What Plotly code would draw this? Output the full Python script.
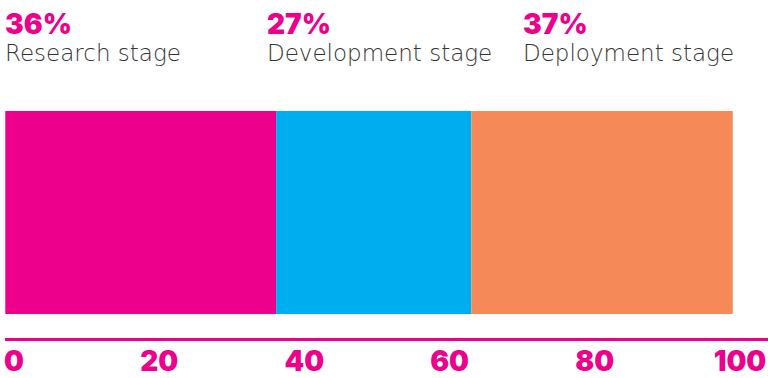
import plotly.graph_objects as go

stages = ["Research stage", "Development stage", "Deployment stage"]
shares = [36, 27, 37]                      # labelled percentages
segment_widths = [37.3, 26.9, 36.0]        # widths as drawn on the axis scale
bar_start = -1.2
colors = ["#EC008C", "#00AEEF", "#F58A58"]
tick_vals = [0, 20, 40, 60, 80, 100]

W, H = 768, 378
ML, MR, MT, MB = 5, 0, 111, 40
PINK = "#EC008C"

fig = go.Figure()
base = bar_start
for name, w, c in zip(stages, segment_widths, colors):
    fig.add_trace(go.Bar(
        x=[w], y=[0.553], base=[base], width=[0.894], orientation="h",
        marker=dict(color=c, line=dict(width=0)), name=name,
        hoverinfo="skip", showlegend=False))
    base += w

# header annotations (pixel positions -> paper)
label_px = [5, 267, 523]
pw = W - ML - MR
ph = H - MT - MB


def py(y_px):
    return (H - MB - y_px) / ph


for px, s, name in zip(label_px, shares, stages):
    xp = (px - ML) / pw
    fig.add_annotation(x=xp, xref="paper", y=py(43), yref="paper",
                       text=f"{s}%", showarrow=False, xanchor="left",
                       yanchor="bottom", xshift=-2,
                       font=dict(family="Inter", size=28, color=PINK, weight=900))
    fig.add_annotation(x=xp, xref="paper", y=py(68), yref="paper",
                       text=name, showarrow=False, xanchor="left",
                       yanchor="bottom", xshift=-2,
                       font=dict(family="DejaVu Sans", size=23, color="#333333", weight=200))

fig.update_layout(
    width=W, height=H,
    margin=dict(l=ML, r=MR, t=MT, b=MB, pad=0),
    paper_bgcolor="white", plot_bgcolor="white",
    barmode="overlay",
    xaxis=dict(range=[(5 - 14) / 7.26, (768 - 14) / 7.26], tickvals=tick_vals,
               showgrid=False, zeroline=False, showline=True, linecolor=PINK,
               linewidth=3, ticks="", automargin=False, ticklabelstandoff=-4,
               ticklabeloverflow="allow",
               tickfont=dict(family="Inter", size=28, color=PINK, weight=900)),
    yaxis=dict(range=[0, 1], visible=False, fixedrange=True),
)

fig.write_html("out.html")
